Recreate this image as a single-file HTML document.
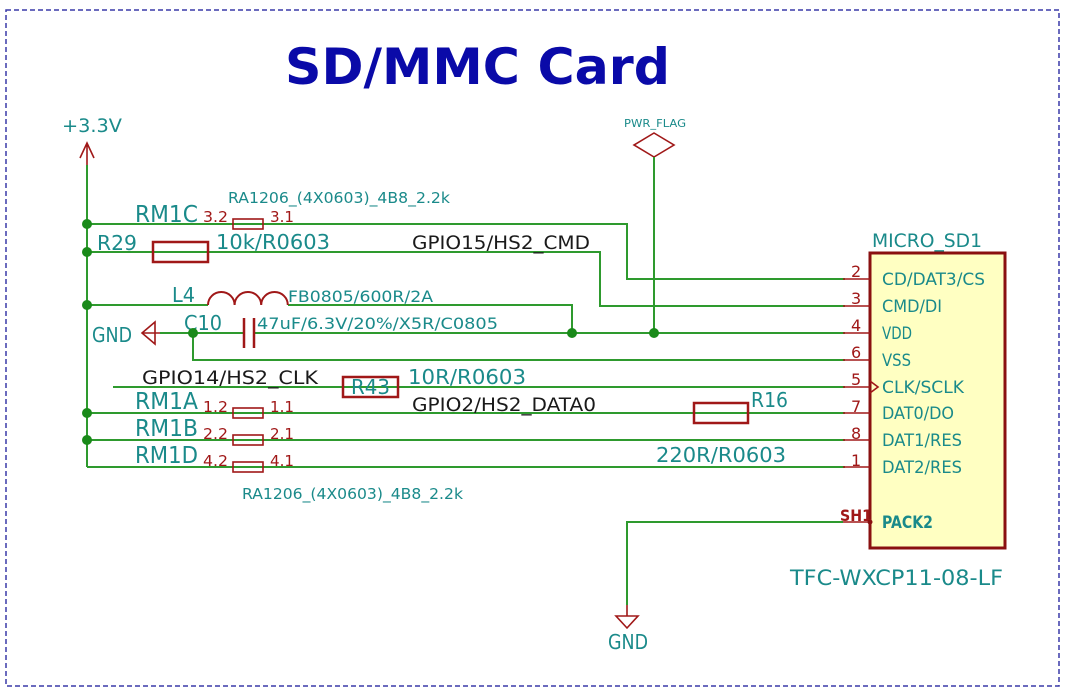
<!DOCTYPE html>
<html><head><meta charset="utf-8"><style>
html,body{margin:0;padding:0;background:#fff;}
svg{display:block;}
text{font-family:"DejaVu Sans","Liberation Sans",sans-serif;}
.w{stroke:#2e9a2e;stroke-width:2;fill:none;}
.r{stroke:#a01818;fill:none;}
.t{fill:#1a8a8a;}
.k{fill:#1a1a1a;}
.p{fill:#a01818;}
</style></head><body>
<svg width="1065" height="690" viewBox="0 0 1065 690" xmlns="http://www.w3.org/2000/svg">
<rect x="6" y="10" width="1053" height="676" fill="none" stroke="#3a3aa8" stroke-width="1.5" stroke-dasharray="5,3"/>
<text x="285" y="84" font-size="50" font-weight="bold" fill="#0a0aa8" textLength="385" lengthAdjust="spacingAndGlyphs">SD/MMC Card</text>

<g lengthAdjust="spacingAndGlyphs">
<text x="62" y="132" font-size="19" class="t" textLength="60" lengthAdjust="spacingAndGlyphs">+3.3V</text>
</g>
<path class="r" stroke-width="1.6" d="M87 165 V143 M80 158 L87 143 L94 158"/>
<path class="w" d="M87 165 V467"/>

<text x="624" y="127" font-size="11" class="t" textLength="62" lengthAdjust="spacingAndGlyphs">PWR_FLAG</text>
<path class="r" stroke-width="1.6" d="M654 133 L674 145 L654 157 L634 145 Z"/>
<path class="w" d="M654 157 V333"/>

<!-- RM1C row -->
<path class="w" d="M87 224 H627 V279 H845"/>
<rect x="233" y="219" width="30" height="10" fill="#fff" class="r" stroke-width="1.6"/>
<text x="135" y="222" font-size="23" class="t" textLength="63" lengthAdjust="spacingAndGlyphs">RM1C</text>
<text x="203" y="222" font-size="15" class="p" textLength="25" lengthAdjust="spacingAndGlyphs">3.2</text>
<text x="270" y="222" font-size="15" class="p" textLength="24" lengthAdjust="spacingAndGlyphs">3.1</text>
<text x="228" y="203" font-size="15" class="t" textLength="222" lengthAdjust="spacingAndGlyphs">RA1206_(4X0603)_4B8_2.2k</text>

<!-- R29 row -->
<path class="w" d="M87 252 H600 V306 H845"/>
<rect x="153" y="242" width="55" height="20" fill="#fff" class="r" stroke-width="2.5"/>
<text x="97" y="250" font-size="20" class="t" textLength="40" lengthAdjust="spacingAndGlyphs">R29</text>
<text x="216" y="249" font-size="20" class="t" textLength="114" lengthAdjust="spacingAndGlyphs">10k/R0603</text>
<text x="412" y="249" font-size="19" class="k" textLength="178" lengthAdjust="spacingAndGlyphs">GPIO15/HS2_CMD</text>

<!-- L4 -->
<path class="w" d="M87 305 H208 M288 305 H572 V333"/>
<path class="r" stroke-width="2" d="M208 305 a13.3 13 0 0 1 26.6 0 a13.3 13 0 0 1 26.6 0 a13.3 13 0 0 1 26.6 0" fill="#fff"/>
<text x="172" y="302" font-size="20" class="t" textLength="23" lengthAdjust="spacingAndGlyphs">L4</text>
<text x="288" y="302" font-size="16" class="t" textLength="145" lengthAdjust="spacingAndGlyphs">FB0805/600R/2A</text>

<!-- GND / C10 row -->
<path class="w" d="M160 333 H244 M254 333 H845 M193 333 V360 H845"/>
<path class="r" stroke-width="2.5" d="M244 318 V348 M254 318 V348"/>
<path class="r" stroke-width="1.6" d="M143 333 H160 M155 322 L142 333 L155 344 Z" fill="#fff"/>
<text x="92" y="342" font-size="20" class="t" textLength="40" lengthAdjust="spacingAndGlyphs">GND</text>
<text x="184" y="330" font-size="20" class="t" textLength="38" lengthAdjust="spacingAndGlyphs">C10</text>
<text x="257" y="329" font-size="16" class="t" textLength="241" lengthAdjust="spacingAndGlyphs">47uF/6.3V/20%/X5R/C0805</text>

<!-- CLK row -->
<path class="w" d="M113 387 H845"/>
<rect x="343" y="377" width="55" height="20" fill="#fff" class="r" stroke-width="2.5"/>
<text x="351" y="394" font-size="20" class="t" textLength="39" lengthAdjust="spacingAndGlyphs">R43</text>
<text x="142" y="384" font-size="19" class="k" textLength="176" lengthAdjust="spacingAndGlyphs">GPIO14/HS2_CLK</text>
<text x="408" y="384" font-size="20" class="t" textLength="118" lengthAdjust="spacingAndGlyphs">10R/R0603</text>

<!-- RM1A -->
<path class="w" d="M87 413 H845"/>
<rect x="233" y="408" width="30" height="10" fill="#fff" class="r" stroke-width="1.6"/>
<rect x="694" y="403" width="54" height="20" fill="#fff" class="r" stroke-width="2.5"/>
<text x="135" y="409" font-size="23" class="t" textLength="63" lengthAdjust="spacingAndGlyphs">RM1A</text>
<text x="203" y="412" font-size="15" class="p" textLength="25" lengthAdjust="spacingAndGlyphs">1.2</text>
<text x="270" y="412" font-size="15" class="p" textLength="24" lengthAdjust="spacingAndGlyphs">1.1</text>
<text x="412" y="411" font-size="19" class="k" textLength="184" lengthAdjust="spacingAndGlyphs">GPIO2/HS2_DATA0</text>
<text x="751" y="407" font-size="20" class="t" textLength="37" lengthAdjust="spacingAndGlyphs">R16</text>

<!-- RM1B -->
<path class="w" d="M87 440 H845"/>
<rect x="233" y="435" width="30" height="10" fill="#fff" class="r" stroke-width="1.6"/>
<text x="135" y="436" font-size="23" class="t" textLength="63" lengthAdjust="spacingAndGlyphs">RM1B</text>
<text x="203" y="439" font-size="15" class="p" textLength="25" lengthAdjust="spacingAndGlyphs">2.2</text>
<text x="270" y="439" font-size="15" class="p" textLength="24" lengthAdjust="spacingAndGlyphs">2.1</text>

<!-- RM1D -->
<path class="w" d="M87 467 H845"/>
<rect x="233" y="462" width="30" height="10" fill="#fff" class="r" stroke-width="1.6"/>
<text x="135" y="463" font-size="23" class="t" textLength="63" lengthAdjust="spacingAndGlyphs">RM1D</text>
<text x="203" y="466" font-size="15" class="p" textLength="25" lengthAdjust="spacingAndGlyphs">4.2</text>
<text x="270" y="466" font-size="15" class="p" textLength="24" lengthAdjust="spacingAndGlyphs">4.1</text>
<text x="656" y="462" font-size="20" class="t" textLength="130" lengthAdjust="spacingAndGlyphs">220R/R0603</text>
<text x="242" y="499" font-size="15" class="t" textLength="221" lengthAdjust="spacingAndGlyphs">RA1206_(4X0603)_4B8_2.2k</text>

<!-- junctions -->
<g fill="#1a8a1a">
<circle cx="87" cy="224" r="5"/><circle cx="87" cy="252" r="5"/><circle cx="87" cy="305" r="5"/>
<circle cx="87" cy="413" r="5"/><circle cx="87" cy="440" r="5"/>
<circle cx="193" cy="333" r="5"/><circle cx="572" cy="333" r="5"/><circle cx="654" cy="333" r="5"/>
</g>

<!-- chip -->
<rect x="870" y="253" width="135" height="295" fill="#ffffc2" stroke="#8a1010" stroke-width="3"/>
<text x="872" y="247" font-size="19" class="t" textLength="110" lengthAdjust="spacingAndGlyphs">MICRO_SD1</text>
<g class="r" stroke-width="1.6">
<path d="M843 279 H870 M843 306 H870 M843 333 H870 M843 360 H870 M843 387 H870 M843 413 H870 M843 440 H870 M843 467 H870 M843 522 H870"/>
<path d="M870 381 L878 387 L870 393"/>
</g>
<g font-size="16" class="p">
<text x="851" y="277">2</text><text x="851" y="304">3</text><text x="851" y="331">4</text>
<text x="851" y="358">6</text><text x="851" y="385">5</text><text x="851" y="412">7</text>
<text x="851" y="439">8</text><text x="851" y="466">1</text>
<text x="840" y="521" font-weight="bold" textLength="32" lengthAdjust="spacingAndGlyphs">SH1</text>
</g>
<g font-size="17" class="t">
<text x="882" y="285" textLength="103" lengthAdjust="spacingAndGlyphs">CD/DAT3/CS</text>
<text x="882" y="312" textLength="60" lengthAdjust="spacingAndGlyphs">CMD/DI</text>
<text x="882" y="339" textLength="30" lengthAdjust="spacingAndGlyphs">VDD</text>
<text x="882" y="366" textLength="29" lengthAdjust="spacingAndGlyphs">VSS</text>
<text x="882" y="393" textLength="82" lengthAdjust="spacingAndGlyphs">CLK/SCLK</text>
<text x="882" y="419" textLength="72" lengthAdjust="spacingAndGlyphs">DAT0/DO</text>
<text x="882" y="446" textLength="80" lengthAdjust="spacingAndGlyphs">DAT1/RES</text>
<text x="882" y="473" textLength="80" lengthAdjust="spacingAndGlyphs">DAT2/RES</text>
<text x="882" y="528" font-weight="bold" textLength="51" lengthAdjust="spacingAndGlyphs">PACK2</text>
</g>
<text x="790" y="585" font-size="21" class="t" textLength="213" lengthAdjust="spacingAndGlyphs">TFC-WXCP11-08-LF</text>

<!-- SH1 to GND -->
<path class="w" d="M843 522 H627 V605"/>
<circle cx="870" cy="522" r="2.5" fill="#8a1010"/>
<path class="r" stroke-width="1.6" d="M627 605 V616 M616 616 H638 L627 628 Z" fill="#fff"/>
<text x="608" y="649" font-size="20" class="t" textLength="40" lengthAdjust="spacingAndGlyphs">GND</text>
</svg>
</body></html>
